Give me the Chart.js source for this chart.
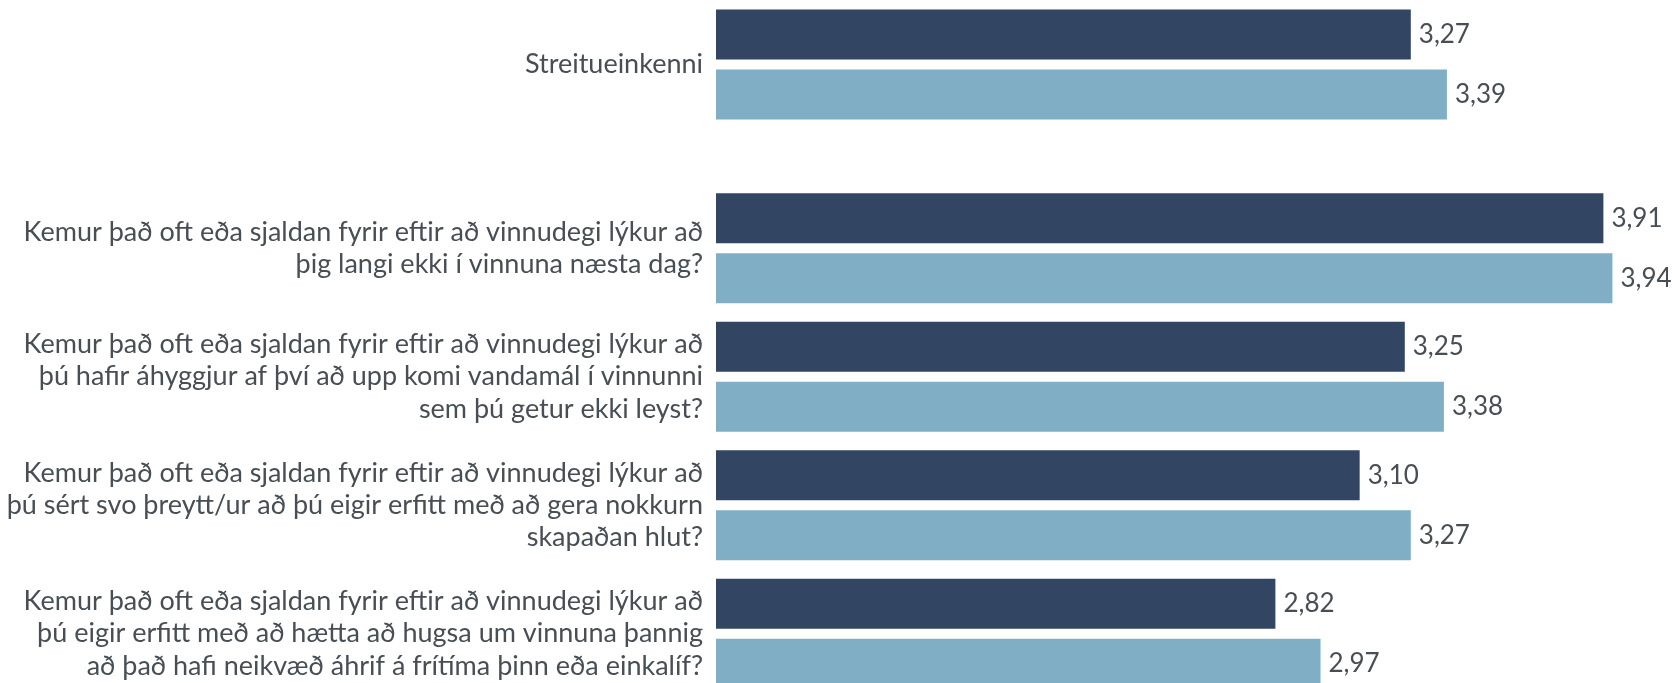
<!DOCTYPE html>
<html>
<head>
<meta charset="utf-8">
<script src="https://cdn.jsdelivr.net/npm/chart.js@4"></script>
<style>
  html, body { margin: 0; padding: 0; background: #fff; }
  #wrap { width: 1672px; height: 683px; position: relative; }
</style>
</head>
<body>
<div id="wrap"><canvas id="chart"></canvas></div>
<script>
const categories = [
    ['Streitueinkenni'],
    ['Kemur það oft eða sjaldan fyrir eftir að vinnudegi lýkur að',
     'þig langi ekki í vinnuna næsta dag?'],
    ['Kemur það oft eða sjaldan fyrir eftir að vinnudegi lýkur að',
     'þú hafir áhyggjur af því að upp komi vandamál í vinnunni',
     'sem þú getur ekki leyst?'],
    ['Kemur það oft eða sjaldan fyrir eftir að vinnudegi lýkur að',
     'þú sért svo þreytt/ur að þú eigir erfitt með að gera nokkurn',
     'skapaðan hlut?'],
    ['Kemur það oft eða sjaldan fyrir eftir að vinnudegi lýkur að',
     'þú eigir erfitt með að hætta að hugsa um vinnuna þannig',
     'að það hafi neikvæð áhrif á frítíma þinn eða einkalíf?']
];
const seriesDark = [3.27, 3.91, 3.25, 3.10, 2.82];
const seriesLight = [3.39, 3.94, 3.38, 3.27, 2.97];

const darkColor = '#324563';
const lightColor = '#80afc5';
const textColor = '#474e54';

// first row is a summary, the questions below it sit a bit further down
const summaryGap = 0.43;
const rowPos = categories.map((_, i) => i === 0 ? 0 : i + summaryGap);

const valueLabels = {
    id: 'valueLabels',
    afterDatasetsDraw(chart) {
        const ctx = chart.ctx;
        ctx.save();
        ctx.font = '26px Lato';
        ctx.fillStyle = textColor;
        ctx.textAlign = 'left';
        ctx.textBaseline = 'middle';
        chart.data.datasets.forEach((ds, di) => {
            chart.getDatasetMeta(di).data.forEach((bar, i) => {
                ctx.fillText(ds.data[i].toFixed(2).replace('.', ','), bar.x + 8, bar.y);
            });
        });
        ctx.restore();
    }
};

const ctx = document.getElementById('chart').getContext('2d');
new Chart(ctx, {
    type: 'bar',
    data: {
        labels: rowPos,
        datasets: [
            {
                label: 'A',
                data: seriesDark,
                backgroundColor: darkColor,
                categoryPercentage: 0.934,
                barPercentage: 0.833
            },
            {
                label: 'B',
                data: seriesLight,
                backgroundColor: lightColor,
                categoryPercentage: 0.934,
                barPercentage: 0.833
            }
        ]
    },
    options: {
        indexAxis: 'y',
        responsive: true,
        maintainAspectRatio: false,
        animation: false,
        layout: { padding: 0 },
        plugins: {
            legend: { display: false },
            tooltip: { enabled: false }
        },
        scales: {
            x: {
                display: false,
                min: 0.961,
                max: 4.138
            },
            y: {
                type: 'linear',
                reverse: true,
                offset: false,
                min: -0.502,
                max: 4.813,
                grid: { display: false, drawTicks: false },
                border: { display: false },
                afterBuildTicks: scale => {
                    scale.ticks = rowPos.map(v => ({ value: v }));
                },
                afterFit: scale => {
                    scale.width = 716;
                    scale.paddingTop = 0;
                    scale.paddingBottom = 0;
                },
                ticks: {
                    autoSkip: false,
                    padding: 13,
                    color: textColor,
                    font: { family: 'Lato', size: 27, lineHeight: 1.2 },
                    callback: value => categories[rowPos.indexOf(value)]
                }
            }
        }
    },
    plugins: [valueLabels]
});
</script>
</body>
</html>
